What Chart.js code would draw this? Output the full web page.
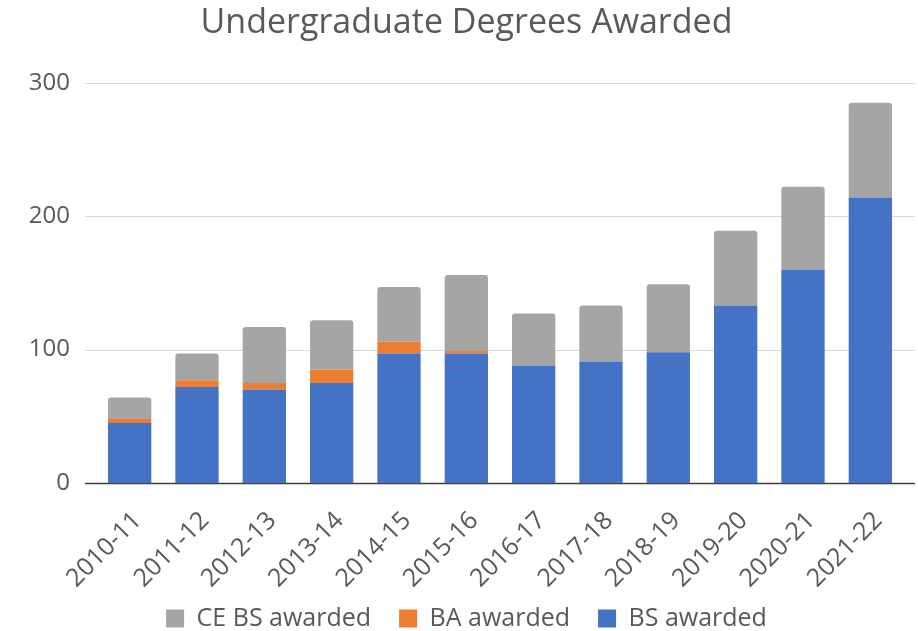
<!DOCTYPE html>
<html>
<head>
<meta charset="utf-8">
<script src="https://cdn.jsdelivr.net/npm/chart.js@4"></script>
<style>
  html, body { margin: 0; padding: 0; background: #fff; }
  #wrap { width: 918px; height: 631px; }
</style>
</head>
<body>
<div id="wrap"><canvas id="myChart" width="918" height="631"></canvas></div>
<script>
var years = ["2010-11", "2011-12", "2012-13", "2013-14", "2014-15", "2015-16", "2016-17", "2017-18", "2018-19", "2019-20", "2020-21", "2021-22"];
var bsAwarded = [45, 72, 70, 75, 97, 97, 88, 91, 98, 133, 160, 214];
var baAwarded = [3, 5, 5, 10, 9, 2, 0, 0, 0, 0, 0, 0];
var ceBsAwarded = [16, 20, 42, 37, 41, 57, 39, 42, 51, 56, 62, 71];
var yTicks = [0, 100, 200, 300];

var textColor = '#595959';
var fontFamily = "'Open Sans', sans-serif";

// horizontal grid lines run a bit past the bars, like the spreadsheet original
var gridPlugin = {
  id: 'wideGrid',
  beforeDatasetsDraw: function (chart) {
    var c = chart.ctx, area = chart.chartArea, y = chart.scales.y;
    c.save();
    yTicks.forEach(function (v) {
      var py = Math.round(y.getPixelForValue(v)) + 0.5;
      c.beginPath();
      c.strokeStyle = v === 0 ? '#3f3f3f' : '#d9d9d9';
      c.lineWidth = v === 0 ? 1.5 : 1;
      c.moveTo(area.left - 11, py);
      c.lineTo(area.right + 11, py);
      c.stroke();
    });
    c.restore();
  }
};

var ctx = document.getElementById('myChart').getContext('2d');

var myChart = new Chart(ctx, {
  type: 'bar',
  data: {
    labels: years,
    datasets: [
      { label: 'BS awarded', data: bsAwarded, backgroundColor: '#4472C4' },
      { label: 'BA awarded', data: baAwarded, backgroundColor: '#ED7D31' },
      { label: 'CE BS awarded', data: ceBsAwarded, backgroundColor: '#A5A5A5',
        borderRadius: { topLeft: 3, topRight: 3 }, borderSkipped: 'bottom' }
    ]
  },
  options: {
    responsive: false,
    animation: false,
    layout: { padding: { left: 29, right: 14, top: 0, bottom: -10 } },
    datasets: { bar: { categoryPercentage: 1, barPercentage: 0.643 } },
    plugins: {
      tooltip: { enabled: false },
      title: {
        display: true,
        text: 'Undergraduate Degrees Awarded',
        color: textColor,
        font: { family: fontFamily, size: 34, weight: 'normal' },
        padding: { top: 3, bottom: 39 }
      },
      legend: {
        position: 'bottom',
        reverse: true,
        labels: {
          color: textColor,
          font: { family: fontFamily, size: 25 },
          boxWidth: 18,
          boxHeight: 18,
          padding: 28
        }
      }
    },
    scales: {
      x: {
        stacked: true,
        grid: { display: false },
        border: { display: false },
        ticks: {
          color: textColor,
          font: { family: fontFamily, size: 25 },
          minRotation: 45,
          maxRotation: 45,
          padding: 15,
          labelOffset: 8
        },
        // labels may hang into the legend's top margin, so don't clip them
        afterFit: function (scale) {
          scale.paddingLeft = 0;
          scale.paddingRight = 0;
          scale.height = 95;
          scale._computeLabelArea = function () { return undefined; };
        }
      },
      y: {
        stacked: true,
        min: 0,
        max: 300,
        grid: { display: false, drawTicks: false },
        border: { display: false },
        ticks: {
          stepSize: 100,
          color: textColor,
          font: { family: fontFamily, size: 24 },
          padding: 26
        },
        afterFit: function (scale) {
          scale.width = 67;
        }
      }
    }
  },
  plugins: [gridPlugin]
});
</script>
</body>
</html>
